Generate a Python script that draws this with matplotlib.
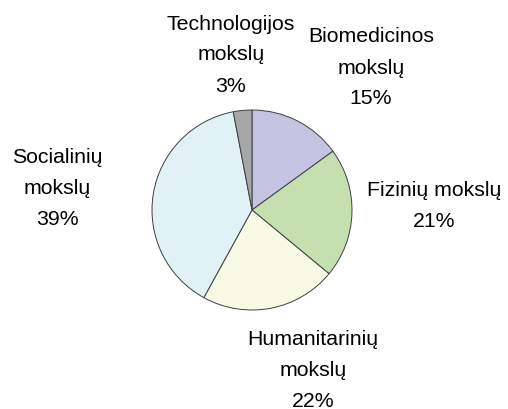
import matplotlib.pyplot as plt

# data
CATEGORIES = ["Biomedicinos\nmokslų", "Fizinių mokslų", "Humanitarinių\nmokslų",
              "Socialinių\nmokslų", "Technologijos\nmokslų"]
VALUES = [15, 21, 22, 39, 3]
COLORS = ["#c4c3e1", "#c6dfae", "#f8fae6", "#e1f2f6", "#a7a7aa"]

# label centres in pixels (x, y from top)
LABEL_POS = [(371, 68), (434, 206), (313, 371), (57, 189), (231, 55)]

W, H = 508, 410
plt.rcParams['font.family'] = ['Liberation Sans', 'DejaVu Sans']

fig = plt.figure(figsize=(W / 100, H / 100), dpi=100)
cx, cy, r = 252, 211, 101
ax = fig.add_axes([(cx - r) / W, (H - cy - r) / H, 2 * r / W, 2 * r / H])
ax.pie(VALUES, colors=COLORS, startangle=90, counterclock=False,
       wedgeprops=dict(edgecolor="#404040", linewidth=0.7))
ax.set_xlim(-1.01, 1.01)
ax.set_ylim(-1.01, 1.01)
ax.set_aspect('equal')

for cat, v, (px, py) in zip(CATEGORIES, VALUES, LABEL_POS):
    fig.text(px / W, 1 - py / H, f"{cat}\n{v}%", ha='center', va='center',
             multialignment='center', fontsize=15.3, linespacing=1.8,
             color='black')

fig.savefig("out.png", dpi=100)
